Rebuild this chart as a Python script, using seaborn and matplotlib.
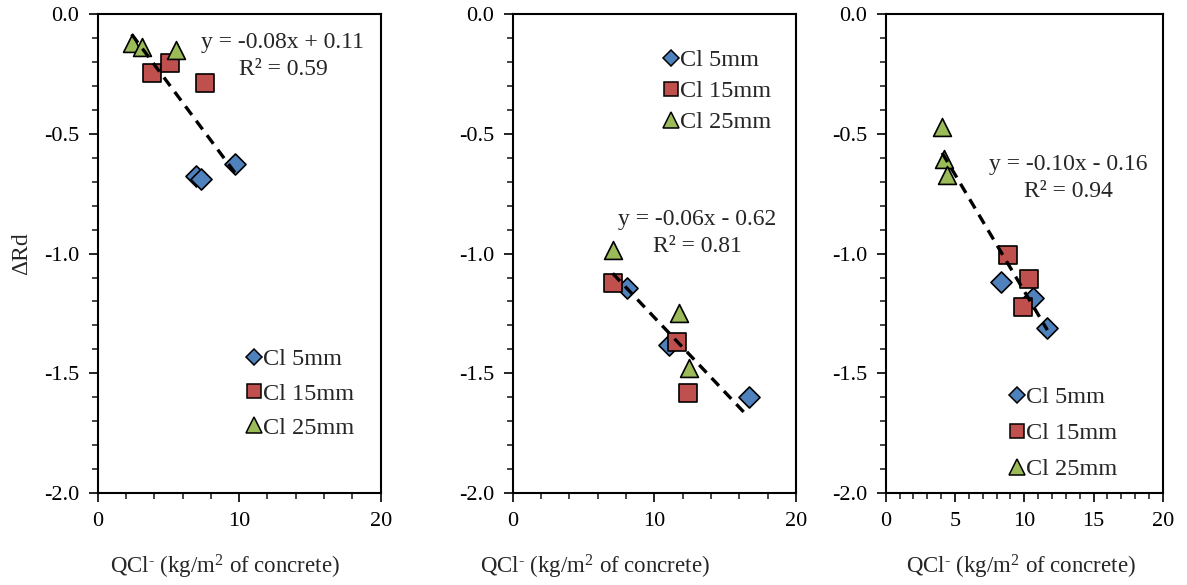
import numpy as np
import matplotlib
matplotlib.use("Agg")
import matplotlib.pyplot as plt
from matplotlib.lines import Line2D
import seaborn as sns

# ---- data: chloride content QCl- vs change in resistance, three panels ----
series_labels = ["Cl 5mm", "Cl 15mm", "Cl 25mm"]

p1_x5 = [6.95, 7.30, 9.70]
p1_y5 = [-0.674, -0.688, -0.626]
p1_x15 = [3.86, 5.13, 7.58]
p1_y15 = [-0.244, -0.205, -0.286]
p1_x25 = [2.40, 3.15, 5.53]
p1_y25 = [-0.120, -0.135, -0.149]

p2_x5 = [8.09, 11.05, 16.65]
p2_y5 = [-1.142, -1.381, -1.598]
p2_x15 = [7.10, 11.57, 12.35]
p2_y15 = [-1.121, -1.370, -1.582]
p2_x25 = [7.06, 11.76, 12.44]
p2_y25 = [-0.984, -1.248, -1.478]

p3_x5 = [8.32, 10.66, 11.67]
p3_y5 = [-1.117, -1.186, -1.311]
p3_x15 = [8.81, 10.32, 9.89]
p3_y15 = [-1.005, -1.105, -1.221]
p3_x25 = [4.07, 4.23, 4.40]
p3_y25 = [-0.472, -0.605, -0.671]

eq_texts = [
    ("y = -0.08x + 0.11", "R² = 0.59"),
    ("y = -0.06x - 0.62", "R² = 0.81"),
    ("y = -0.10x - 0.16", "R² = 0.94"),
]
x_major = [10, 10, 5]
x_minor = [2, 2, 1]

# ---- style ----
sns.set_style("ticks")
plt.rcParams["font.family"] = ["Liberation Serif", "DejaVu Serif"]
plt.rcParams["mathtext.fontset"] = "custom"
plt.rcParams["mathtext.rm"] = "Liberation Serif"
plt.rcParams["mathtext.it"] = "Liberation Serif:italic"
plt.rcParams["mathtext.bf"] = "Liberation Serif:bold"

colors = ["#4F81BD", "#C0504D", "#9BBB59"]
markers = ["D", "s", "^"]
sizes = [115, 160, 165]
legend_ms = [8.5, 10.5, 11.0]

fig = plt.figure(figsize=(11.87, 5.85), dpi=100)

axes_rects = [
    [0.0823, 0.1573, 0.2384, 0.8183],
    [0.4319, 0.1573, 0.2387, 0.8183],
    [0.7462, 0.1573, 0.2334, 0.8183],
]
legend_anchor = [(0.5219, 0.3025), (0.5288, 0.9265), (0.4433, 0.2231)]
legend_spacing = [0.51, 0.37, 0.58]
eq_pos = [((283 - 97.7) / 283, 1 - (43 - 14.3) / 478.7),
          ((697.5 - 512.7) / 283.3, 1 - (220 - 14.3) / 478.7),
          ((1068.5 - 885.7) / 277, 1 - (165 - 14.3) / 478.7)]
xlabel_x = [0.45, 0.29, 0.488]

panels = [
    [(p1_x5, p1_y5), (p1_x15, p1_y15), (p1_x25, p1_y25)],
    [(p2_x5, p2_y5), (p2_x15, p2_y15), (p2_x25, p2_y25)],
    [(p3_x5, p3_y5), (p3_x15, p3_y15), (p3_x25, p3_y25)],
]

legend_handles = [
    Line2D([], [], ls="none", marker=markers[j], markersize=legend_ms[j],
           markerfacecolor=colors[j], markeredgecolor="black",
           markeredgewidth=1.1, label=series_labels[j])
    for j in range(3)
]

for i, (rect, series) in enumerate(zip(axes_rects, panels)):
    ax = fig.add_axes(rect)
    for j, (xs, ys) in enumerate(series):
        sns.scatterplot(x=xs, y=ys, marker=markers[j], s=sizes[j], color=colors[j],
                        edgecolor="black", linewidth=1.2, label=series_labels[j],
                        ax=ax, zorder=3 + j, legend=False)
    all_x = np.concatenate([s[0] for s in series])
    all_y = np.concatenate([s[1] for s in series])
    # least-squares trend line over all three depths
    sns.regplot(x=all_x, y=all_y, scatter=False, ci=None, truncate=True, ax=ax,
                line_kws=dict(color="black", lw=2.4, ls=(0, (3.2, 2.2)),
                              dash_capstyle="butt", zorder=10))

    ax.set_xlim(0, 20)
    ax.set_ylim(-2.0, 0.0)
    ax.set_xticks(np.arange(0, 20.1, x_major[i]))
    ax.set_xticks(np.arange(0, 20.1, x_minor[i]), minor=True)
    ax.set_yticks(np.arange(-2.0, 0.01, 0.5))
    ax.set_yticks(np.arange(-2.0, 0.01, 0.1), minor=True)
    ax.set_yticklabels([f"{v:.1f}" for v in np.arange(-2.0, 0.01, 0.5)])
    ax.set_xticklabels([f"{v:d}" for v in range(0, 21, x_major[i])])
    ax.tick_params(which="major", direction="out", length=6.5, width=1.2,
                   labelsize=16, pad=7, colors="black")
    ax.tick_params(which="minor", direction="out", length=4.0, width=1.2)
    for sp in ax.spines.values():
        sp.set_visible(True)
        sp.set_linewidth(1.5)
        sp.set_color("black")

    ax.set_xlabel(r"QCl$^{\text{-}}$ (kg/m$^{2}$ of concrete)", fontsize=16.5)
    ax.xaxis.set_label_coords(xlabel_x[i], -(567 - 493) / 478.7)
    ax.xaxis.label.set_va("center")
    if i == 0:
        ax.set_ylabel("ΔRd", fontsize=17)
        ax.yaxis.set_label_coords((21.7 - 97.7) / 283, 0.5)
        ax.yaxis.label.set_va("center")
    else:
        ax.set_ylabel("")

    ex, ey = eq_pos[i]
    ax.text(ex, ey, eq_texts[i][0], transform=ax.transAxes, ha="center",
            va="center", fontsize=17, zorder=12)
    ax.text(ex, ey - 27 / 478.7, eq_texts[i][1], transform=ax.transAxes,
            ha="center", va="center", fontsize=17, zorder=12)

    ax.legend(handles=legend_handles, loc="upper left",
              bbox_to_anchor=legend_anchor[i], frameon=False,
              fontsize=17.5, handlelength=0.7, handletextpad=0.02,
              labelspacing=legend_spacing[i], borderpad=0, borderaxespad=0)

fig.savefig("out.png", dpi=100)
